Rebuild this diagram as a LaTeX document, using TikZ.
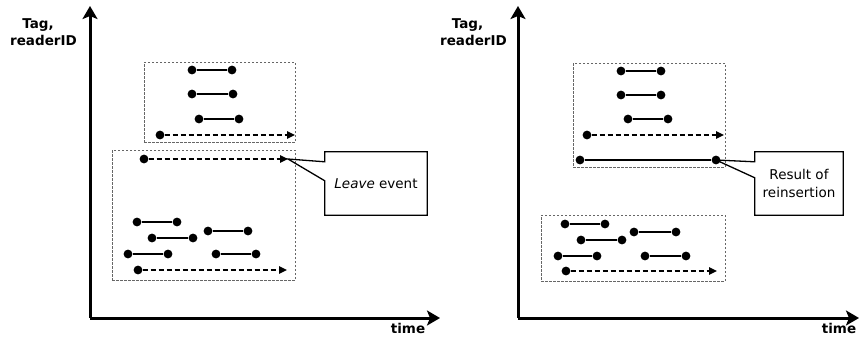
\documentclass[tikz,border=0pt]{standalone}
\usepackage{fontspec}
\setmainfont{DejaVu Sans}
\usetikzlibrary{arrows.meta,calc}
\begin{document}
\begin{tikzpicture}[x=1pt,y=-1pt,
  axis/.style={line width=3pt,-{Stealth[length=13pt,width=15pt,inset=3pt]}},
  axlabel/.style={font=\fontsize{13.5}{14}\selectfont\bfseries,inner sep=0pt,anchor=base},
  dot/.style={circle,fill=black,inner sep=0pt,minimum size=8.8pt},
  seg/.style={line width=1.5pt},
  darrow/.style={line width=1.6pt,dash pattern=on 5pt off 3pt,-{Triangle[length=8pt,width=7.5pt]}},
  dbox/.style={draw=black!60,line width=0.7pt,dash pattern=on 2.5pt off 1.5pt,inner sep=0pt},
  cbox/.style={inner sep=0pt,align=center,font=\fontsize{13.5}{18}\selectfont},
  cline/.style={line width=1.3pt,line join=miter}]
\useasboundingbox (0,0) rectangle (860,346);
% ---------------- left panel ----------------
\coordinate (oL) at (90,318);
\coordinate (yL) at (90,6);
\coordinate (xL) at (440,318);
\draw[axis] (oL) -- (yL);
\draw[axis] (oL) -- (xL);
\node[axlabel] (tagL) at (38,28) {Tag,};
\node[axlabel] (ridL) at (43.5,45) {readerID};
\node[axlabel] (timeL) at (408,333) {time};
% boxes
\node[dbox,minimum width=151pt,minimum height=80pt] (bL1) at (219.5,102) {};
\node[dbox,minimum width=183pt,minimum height=130pt] (bL2) at (203.5,215) {};
% upper box
\node[dot] (a1) at (192,70) {}; \node[dot] (a2) at (232,70) {};
\node[dot] (a3) at (192,94) {}; \node[dot] (a4) at (233,94) {};
\node[dot] (a5) at (199,119) {}; \node[dot] (a6) at (239,119) {};
\draw[seg] (a1) -- (a2); \draw[seg] (a3) -- (a4); \draw[seg] (a5) -- (a6);
\node[dot] (a7) at (160,135) {}; \coordinate (e1) at (295,135);
\draw[darrow] (a7) -- (e1);
% lower box
\node[dot] (b0) at (144,159) {}; \coordinate (e2) at (288,159);
\draw[darrow] (b0) -- (e2);
\node[dot] (b1) at (137,222) {}; \node[dot] (b2) at (177,222) {};
\node[dot] (b3) at (152,238) {}; \node[dot] (b4) at (193,238) {};
\node[dot] (b5) at (128,254) {}; \node[dot] (b6) at (168,254) {};
\node[dot] (b7) at (208,231) {}; \node[dot] (b8) at (248,231) {};
\node[dot] (b9) at (216,254) {}; \node[dot] (b10) at (256,254) {};
\draw[seg] (b1) -- (b2); \draw[seg] (b3) -- (b4); \draw[seg] (b5) -- (b6);
\draw[seg] (b7) -- (b8); \draw[seg] (b9) -- (b10);
\node[dot] (b11) at (138,270) {}; \coordinate (e3) at (287,270);
\draw[darrow] (b11) -- (e3);
% callout
\node[cbox,minimum width=102pt,minimum height=63pt] (cL) at (376,183.5) {\textit{Leave} event};
\draw[cline] (cL.north west) -- (cL.north east) -- (cL.south east) -- (cL.south west)
  -- ($(cL.north west)+(0,29)$) -- (e2) -- ($(cL.north west)+(0,10)$) -- cycle;
% ---------------- right panel ----------------
\coordinate (oR) at (518,318);
\coordinate (yR) at (518,6);
\coordinate (xR) at (859,318);
\draw[axis] (oR) -- (yR);
\draw[axis] (oR) -- (xR);
\node[axlabel] (tagR) at (467.5,28) {Tag,};
\node[axlabel] (ridR) at (473.5,45) {readerID};
\node[axlabel] (timeR) at (839,333) {time};
\node[dbox,minimum width=152pt,minimum height=104pt] (bR1) at (649,115) {};
\node[dbox,minimum width=184pt,minimum height=66pt] (bR2) at (633,248) {};
% upper box
\node[dot] (c1) at (621,71) {}; \node[dot] (c2) at (661,71) {};
\node[dot] (c3) at (621,95) {}; \node[dot] (c4) at (661,95) {};
\node[dot] (c5) at (628,119) {}; \node[dot] (c6) at (668,119) {};
\draw[seg] (c1) -- (c2); \draw[seg] (c3) -- (c4); \draw[seg] (c5) -- (c6);
\node[dot] (c7) at (587,135) {}; \coordinate (f1) at (724,135);
\draw[darrow] (c7) -- (f1);
\node[dot] (c8) at (580,160) {}; \node[dot] (c9) at (716,160) {};
\draw[seg] (c8) -- (c9);
% lower box
\node[dot] (d1) at (565,224) {}; \node[dot] (d2) at (605,224) {};
\node[dot] (d3) at (581,240) {}; \node[dot] (d4) at (622,240) {};
\node[dot] (d5) at (558,256) {}; \node[dot] (d6) at (597,256) {};
\node[dot] (d7) at (634,232) {}; \node[dot] (d8) at (676,232) {};
\node[dot] (d9) at (645,256) {}; \node[dot] (d10) at (686,256) {};
\draw[seg] (d1) -- (d2); \draw[seg] (d3) -- (d4); \draw[seg] (d5) -- (d6);
\draw[seg] (d7) -- (d8); \draw[seg] (d9) -- (d10);
\node[dot] (d11) at (566,271) {}; \coordinate (f2) at (717,271);
\draw[darrow] (d11) -- (f2);
% callout
\node[cbox,minimum width=88pt,minimum height=63pt] (cR) at (799,183.5) {Result of\\reinsertion};
\draw[cline] (cR.north west) -- (cR.north east) -- (cR.south east) -- (cR.south west)
  -- ($(cR.north west)+(0,26)$) -- (c9.center) -- ($(cR.north west)+(0,10)$) -- cycle;
\end{tikzpicture}
\end{document}
